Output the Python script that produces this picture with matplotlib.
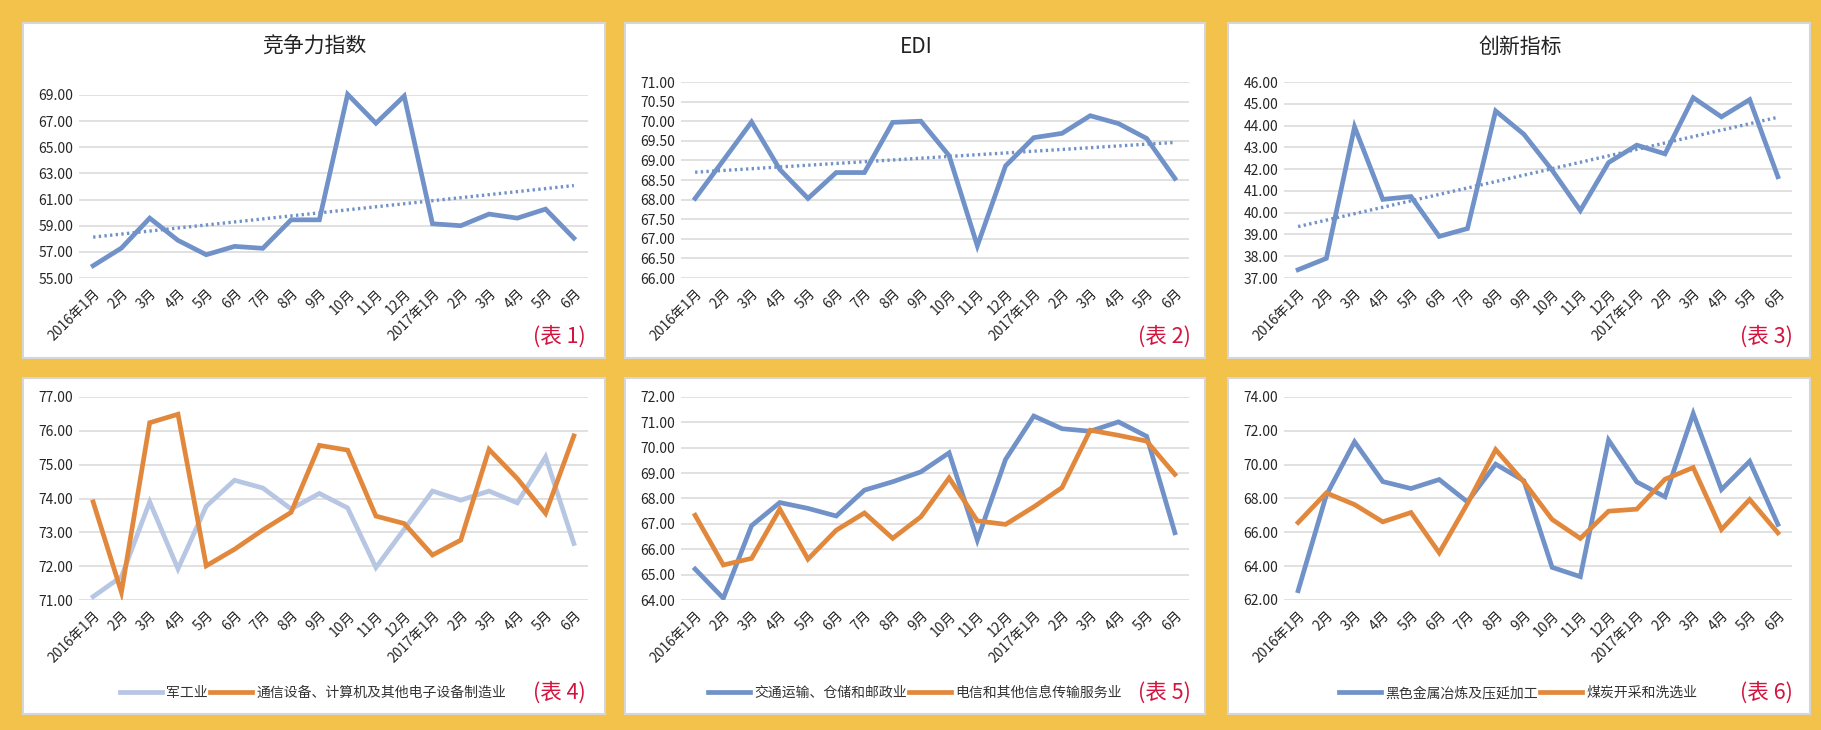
import numpy as np
import matplotlib
matplotlib.use('Agg')
import matplotlib.pyplot as plt
from matplotlib.patches import Rectangle
from matplotlib.ticker import FormatStrFormatter

plt.rcParams['font.family'] = ['Noto Sans CJK SC', 'DejaVu Sans']

#Donnees
months = ['2016年1月', '2月', '3月', '4月', '5月', '6月', '7月', '8月', '9月', '10月', '11月', '12月',
          '2017年1月', '2月', '3月', '4月', '5月', '6月']

jingzheng = [55.94, 57.29, 59.58, 57.88, 56.78, 57.42, 57.27, 59.45, 59.45, 69.05, 66.84, 68.92,
             59.15, 59.00, 59.89, 59.58, 60.27, 58.05]
edi = [68.03, 69.00, 69.98, 68.77, 68.03, 68.69, 68.69, 69.97, 70.00, 69.12, 66.82, 68.86,
       69.58, 69.69, 70.14, 69.94, 69.56, 68.54]
chuangxin = [37.38, 37.90, 43.94, 40.61, 40.74, 38.91, 39.27, 44.67, 43.60, 41.95, 40.10, 42.30,
             43.10, 42.70, 45.28, 44.40, 45.19, 41.65]

jungong = [71.10, 71.69, 73.90, 71.92, 73.77, 74.54, 74.31, 73.69, 74.15, 73.72, 71.96, 73.09,
           74.22, 73.95, 74.22, 73.87, 75.23, 72.67]
tongxin = [73.90, 71.23, 76.24, 76.49, 72.01, 72.50, 73.07, 73.59, 75.57, 75.43, 73.48, 73.26,
           72.33, 72.77, 75.45, 74.59, 73.56, 75.85]

jiaotong = [65.22, 64.07, 66.93, 67.84, 67.61, 67.31, 68.33, 68.66, 69.05, 69.80, 66.36, 69.54,
            71.25, 70.75, 70.65, 71.02, 70.45, 66.65]
dianxin = [67.34, 65.38, 65.64, 67.58, 65.61, 66.75, 67.43, 66.43, 67.28, 68.81, 67.12, 66.98,
           67.67, 68.43, 70.69, 70.49, 70.26, 68.95]

heise = [62.55, 68.20, 71.35, 69.00, 68.59, 69.12, 67.80, 70.03, 69.05, 63.93, 63.38, 71.45,
         68.98, 68.10, 73.02, 68.53, 70.20, 66.47]
meitan = [66.58, 68.33, 67.64, 66.62, 67.17, 64.79, 67.70, 70.89, 68.98, 66.76, 65.64, 67.25,
          67.37, 69.14, 69.83, 66.17, 67.94, 65.97]

#Couleurs
BLEU = '#7092c8'
ORANGE = '#e2883c'
GRIS_BLEU = '#b7c6e2'
JAUNE = '#f3c24b'
ROUGE = '#d4123e'

W, H = 1821, 730
fig = plt.figure(figsize=(W / 100, H / 100), dpi=100, facecolor=JAUNE)

def px_rect(x0, y0, x1, y1):
    return [x0 / W, 1 - y1 / H, (x1 - x0) / W, (y1 - y0) / H]

#Fonds blancs des panneaux
panneaux = [(23, 23, 605, 358), (625, 23, 1205, 358), (1228, 23, 1810, 358),
            (23, 378, 605, 714), (625, 378, 1205, 714), (1228, 378, 1810, 714)]
for (x0, y0, x1, y1) in panneaux:
    fig.patches.append(Rectangle((x0 / W, 1 - y1 / H), (x1 - x0) / W, (y1 - y0) / H,
                                 transform=fig.transFigure, facecolor='white',
                                 edgecolor='#d6d6d6', linewidth=1.5, zorder=-5))

def prepare(ax, ylo, yhi, step):
    ax.set_zorder(2)
    ax.set_xlim(-0.5, len(months) - 0.5)
    ax.set_ylim(ylo, yhi)
    ax.set_yticks(np.arange(ylo, yhi + step / 2, step))
    ax.yaxis.set_major_formatter(FormatStrFormatter('%.2f'))
    ax.grid(axis='y', color='#d9d9d9', linewidth=1.1)
    ax.set_axisbelow(True)
    for s in ax.spines.values():
        s.set_visible(False)
    ax.tick_params(length=0, labelsize=10, labelcolor='#262626', pad=4)
    ax.set_xticks(range(len(months)))
    ax.set_xticklabels(months, rotation=45, ha='right', rotation_mode='anchor', fontsize=10)
    for t in ax.get_xticklabels() + ax.get_yticklabels():
        t.set_fontweight('medium')
    ax.tick_params(axis='x', pad=6)
    ax.patch.set_alpha(0)

x = np.arange(len(months))

def tendance(ax, vals):
    a, b = np.polyfit(x, vals, 1)
    ax.plot(x, a * x + b, color=BLEU, linewidth=2.4, linestyle=(0, (0.7, 1.0)))

def etiquette(xr, yc, n):
    fig.text(xr / W, 1 - yc / H, '(表 %d)' % n, color=ROUGE, fontsize=15.5, fontweight='medium',
             ha='right', va='center', zorder=3)

#Ligne du haut
ax1 = fig.add_axes(px_rect(79, 95, 588, 278))
prepare(ax1, 55, 69, 2)
ax1.plot(x, jingzheng, color=BLEU, linewidth=3.4, clip_on=False, solid_joinstyle='miter')
tendance(ax1, jingzheng)
fig.text(314 / W, 1 - 47 / H, '竞争力指数', fontsize=15, ha='center', va='center', color='#222222')
etiquette(586, 337, 1)

ax2 = fig.add_axes(px_rect(681, 82, 1189, 278))
prepare(ax2, 66, 71, 0.5)
ax2.plot(x, edi, color=BLEU, linewidth=3.4, solid_joinstyle='miter')
tendance(ax2, edi)
fig.text(916 / W, 1 - 47 / H, 'EDI', fontsize=15, ha='center', va='center', color='#222222')
etiquette(1191, 337, 2)

ax3 = fig.add_axes(px_rect(1284, 82, 1792, 278))
prepare(ax3, 37, 46, 1)
ax3.plot(x, chuangxin, color=BLEU, linewidth=3.4, solid_joinstyle='miter')
tendance(ax3, chuangxin)
fig.text(1520 / W, 1 - 47 / H, '创新指标', fontsize=15, ha='center', va='center', color='#222222')
etiquette(1793, 337, 3)

#Ligne du bas
ax4 = fig.add_axes(px_rect(79, 397, 588, 600))
prepare(ax4, 71, 77, 1)
ax4.plot(x, jungong, color=GRIS_BLEU, linewidth=3.4, label='军工业', solid_joinstyle='miter')
ax4.plot(x, tongxin, color=ORANGE, linewidth=3.4, label='通信设备、计算机及其他电子设备制造业',
         solid_joinstyle='miter')
etiquette(586, 693, 4)

ax5 = fig.add_axes(px_rect(681, 397, 1189, 600))
prepare(ax5, 64, 72, 1)
ax5.plot(x, jiaotong, color=BLEU, linewidth=3.4, label='交通运输、仓储和邮政业', solid_joinstyle='miter')
ax5.plot(x, dianxin, color=ORANGE, linewidth=3.4, label='电信和其他信息传输服务业', solid_joinstyle='miter')
etiquette(1191, 693, 5)

ax6 = fig.add_axes(px_rect(1284, 397, 1792, 600))
prepare(ax6, 62, 74, 2)
ax6.plot(x, heise, color=BLEU, linewidth=3.4, label='黑色金属冶炼及压延加工', solid_joinstyle='miter')
ax6.plot(x, meitan, color=ORANGE, linewidth=3.4, label='煤炭开采和洗选业', solid_joinstyle='miter')
etiquette(1793, 693, 6)

for ax, xc in [(ax4, 313), (ax5, 915), (ax6, 1518)]:
    fig.legend(*ax.get_legend_handles_labels(), loc='center', bbox_to_anchor=(xc / W, 1 - 693 / H),
               ncol=2, frameon=False, fontsize=10, handlelength=3.0, handletextpad=0.3,
               columnspacing=0.2, labelcolor='#333333')

plt.savefig('out.png', dpi=100, facecolor=JAUNE)
